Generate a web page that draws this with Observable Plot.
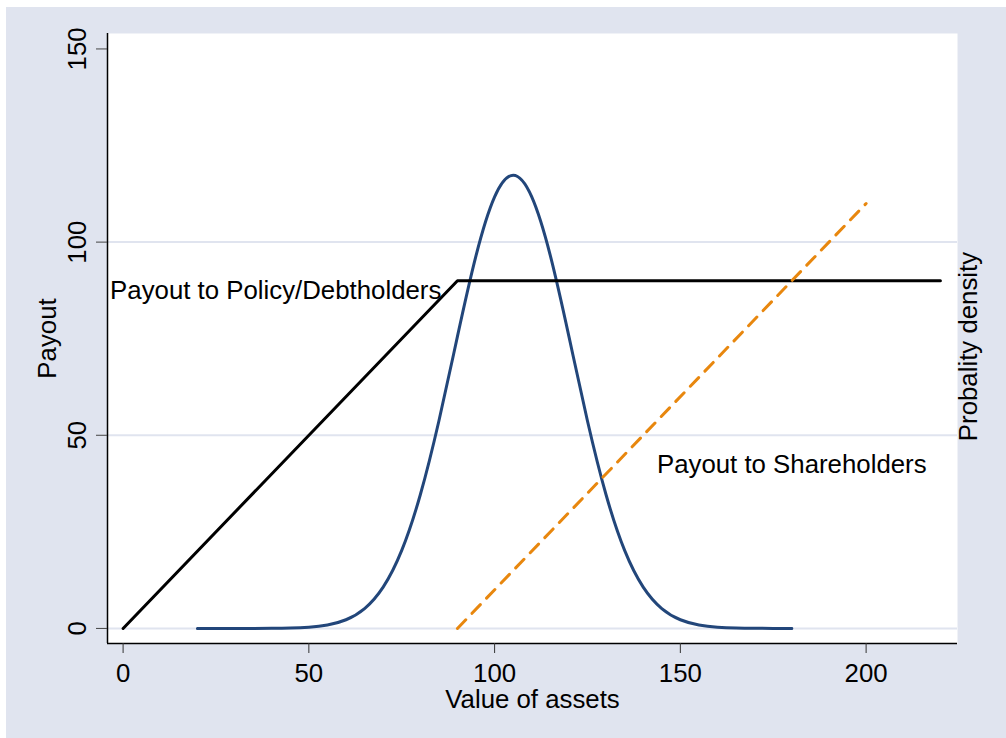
<!DOCTYPE html>
<html>
<head>
<meta charset="utf-8">
<script src="https://cdn.jsdelivr.net/npm/d3@7"></script>
<script src="https://cdn.jsdelivr.net/npm/@observablehq/plot@0.6"></script>
<style>
  html, body { margin: 0; padding: 0; background: #ffffff; }
  #wrap { position: absolute; left: 6px; top: 7px; width: 1000px; height: 731px; background: #e0e4ef; }
  #wrap svg { display: block; }
</style>
</head>
<body>
<div id="wrap"></div>
<script>
// ---- data ----
const xTicks = [0, 50, 100, 150, 200];
const yTicks = [0, 50, 100, 150];
const gridValues = [0, 50, 100];

// Payout to policy/debtholders (black)
const debtX = [0, 90, 220];
const debtY = [0, 90, 90];

// Payout to shareholders (orange dashed)
const shareX = [90, 200];
const shareY = [0, 110];

// Probability density curve (navy)
const densX = [20, 25, 30, 35, 40, 45, 50, 55, 60, 65, 70, 75, 80, 85, 90, 95, 100, 105,
               110, 115, 120, 125, 130, 135, 140, 145, 150, 155, 160, 165, 170, 175, 180];
const densY = [0, 0, 0, 0.01, 0.03, 0.1, 0.32, 0.89, 2.25, 5.15, 10.7, 20.2, 34.6, 53.7, 75.6, 96.5, 111.7, 117.3,
               111.7, 96.5, 75.6, 53.7, 34.6, 20.2, 10.7, 5.15, 2.25, 0.89, 0.32, 0.1, 0.03, 0.01, 0];

const labels = [
  {x: -3.5, y: 87.5, text: "Payout to Policy/Debtholders"},
  {x: 143.7, y: 42.5, text: "Payout to Shareholders"}
];

const xTitle = "Value of assets";
const yTitle = "Payout";
const y2Title = "Probality density";

// ---- build tables ----
const debt = debtX.map((x, i) => ({x, y: debtY[i]}));
const share = shareX.map((x, i) => ({x, y: shareY[i]}));
const dens = densX.map((x, i) => ({x, y: densY[i]}));

const xDomain = [-4.2, 224.6];
const yDomain = [-3.9, 154];
const font = "'Liberation Sans', Arial, Helvetica, sans-serif";
const fs = 25.8;

const chart = Plot.plot({
  width: 1000,
  height: 731,
  marginLeft: 101,
  marginRight: 49,
  marginTop: 26,
  marginBottom: 95,
  x: {domain: xDomain},
  y: {domain: yDomain},
  style: {fontFamily: font, background: "transparent", color: "black", overflow: "visible"},
  marks: [
    Plot.frame({fill: "white", stroke: null}),
    Plot.ruleY(gridValues, {stroke: "#e0e4ef", strokeWidth: 2}),
    Plot.line(dens, {x: "x", y: "y", curve: "natural", stroke: "#22467a", strokeWidth: 3}),
    Plot.line(debt, {x: "x", y: "y", stroke: "black", strokeWidth: 3, strokeLinejoin: "round"}),
    Plot.line(share, {x: "x", y: "y", stroke: "#e8870e", strokeWidth: 3, strokeDasharray: "12,9", strokeLinecap: "round"}),
    Plot.text(labels, {x: "x", y: "y", text: "text", textAnchor: "start", lineAnchor: "middle", fontSize: fs, fill: "black"}),
    Plot.ruleX([xDomain[0]], {stroke: "black", strokeWidth: 1.5}),
    Plot.ruleY([yDomain[0]], {stroke: "black", strokeWidth: 1.5}),
    Plot.axisX({ticks: xTicks, tickSize: 10, tickPadding: 10, fontSize: fs, label: null, stroke: "#333"}),
    Plot.axisY({ticks: yTicks, tickSize: 11, tickFormat: () => "", label: null, stroke: "#444"}),
    Plot.text(yTicks, {y: d => d, text: d => String(d), frameAnchor: "left", dx: -30, rotate: -90,
                       textAnchor: "middle", lineAnchor: "middle", fontSize: fs, fill: "black"}),
    Plot.text([xTitle], {text: d => d, frameAnchor: "bottom", dy: 56, textAnchor: "middle", lineAnchor: "middle", fontSize: fs, fill: "black"}),
    Plot.text([yTitle], {text: d => d, frameAnchor: "left", dx: -59.5, rotate: -90, textAnchor: "middle", lineAnchor: "middle", fontSize: fs, fill: "black"}),
    Plot.text([y2Title], {text: d => d, frameAnchor: "right", dx: 11.5, dy: 8, rotate: -90, textAnchor: "middle", lineAnchor: "middle", fontSize: fs, fill: "black"})
  ]
});

document.getElementById("wrap").appendChild(chart);
</script>
</body>
</html>
